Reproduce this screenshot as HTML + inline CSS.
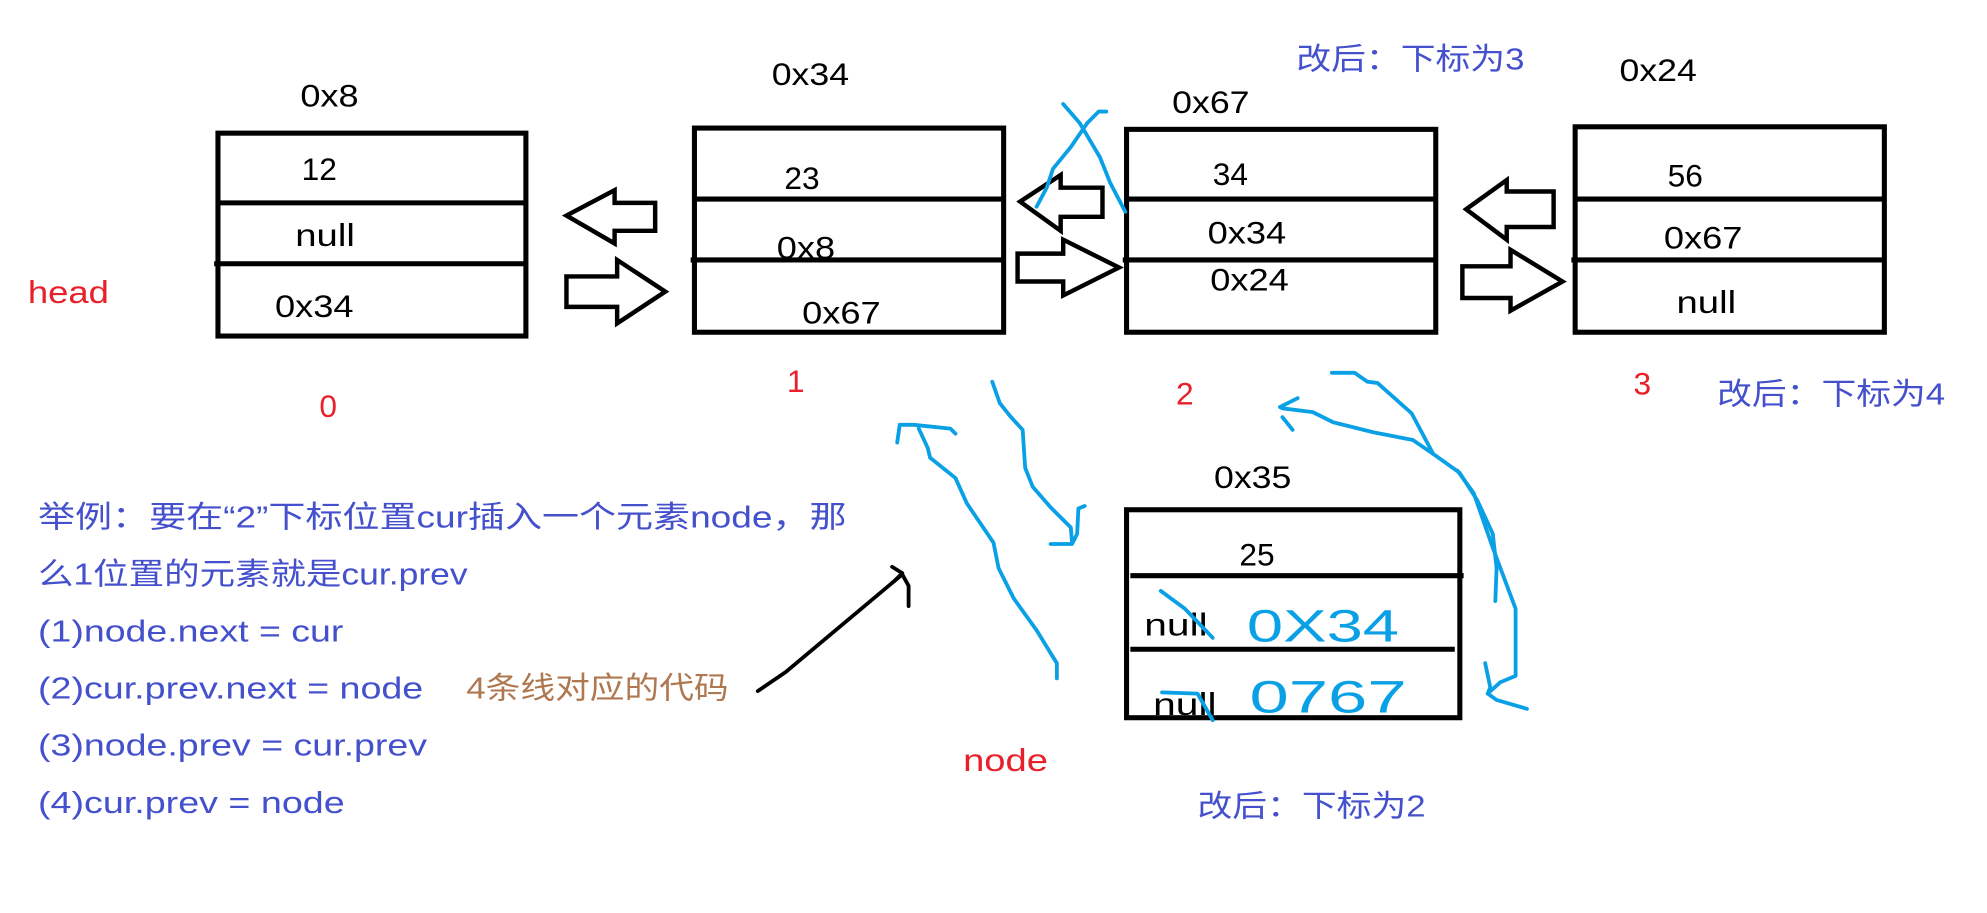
<!DOCTYPE html>
<html><head><meta charset="utf-8"><style>
html,body{margin:0;padding:0;background:#fff;}
svg{display:block;}
text{font-family:"Liberation Sans","Noto Sans CJK SC",sans-serif;}
</style></head><body>
<svg width="1987" height="913" viewBox="0 0 1568 720" preserveAspectRatio="none" xmlns="http://www.w3.org/2000/svg">
<rect width="1568" height="720" fill="#fff"/>
<g fill="none" stroke="#000" stroke-width="4">
<rect x="172" y="105" width="243" height="160"/>
<line x1="172" y1="160" x2="415" y2="160"/>
<line x1="169" y1="208" x2="415" y2="208"/>
<rect x="548" y="101" width="244" height="161"/>
<line x1="548" y1="157" x2="792" y2="157"/>
<line x1="545" y1="205" x2="792" y2="205"/>
<rect x="889" y="102" width="244" height="160"/>
<line x1="889" y1="157" x2="1133" y2="157"/>
<line x1="886" y1="205" x2="1133" y2="205"/>
<rect x="1243" y="100" width="244" height="162"/>
<line x1="1243" y1="157" x2="1487" y2="157"/>
<line x1="1240" y1="205" x2="1487" y2="205"/>
<rect x="889" y="402" width="263" height="164"/>
<line x1="892" y1="454" x2="1155" y2="454"/>
<line x1="892" y1="512" x2="1148" y2="512"/>
</g>
<g fill="#fff" stroke="#000" stroke-width="3.5" stroke-linejoin="miter">
<polygon points="447,170 485,150 485,160 517,160 517,182 485,182 485,192"/>
<polygon points="447,218 487,218 487,205 525,230 487,255 487,242 447,242"/>
<polygon points="805,159 837,138 837,148 870,148 870,171 837,171 837,182"/>
<polygon points="803,200 839,200 839,189 883,211 839,233 839,222 803,222"/>
<polygon points="1157,165 1189,142 1189,151 1226,151 1226,179 1189,179 1189,189"/>
<polygon points="1154,210 1192,210 1192,197 1233,222 1192,245 1192,235 1154,235"/>
</g>
<g font-size="25" fill="#000">
<text x="237" y="84" textLength="46" lengthAdjust="spacingAndGlyphs">0x8</text>
<text x="609" y="67" textLength="61" lengthAdjust="spacingAndGlyphs">0x34</text>
<text x="925" y="89" textLength="61" lengthAdjust="spacingAndGlyphs">0x67</text>
<text x="1278" y="64" textLength="61" lengthAdjust="spacingAndGlyphs">0x24</text>
<text x="958" y="385" textLength="61" lengthAdjust="spacingAndGlyphs">0x35</text>
<text x="238" y="142">12</text>
<text x="233" y="194" textLength="47" lengthAdjust="spacingAndGlyphs">null</text>
<text x="217" y="250" textLength="62" lengthAdjust="spacingAndGlyphs">0x34</text>
<text x="619" y="149">23</text>
<text x="613" y="204" textLength="46" lengthAdjust="spacingAndGlyphs">0x8</text>
<text x="633" y="255" textLength="62" lengthAdjust="spacingAndGlyphs">0x67</text>
<text x="957" y="146">34</text>
<text x="953" y="192" textLength="62" lengthAdjust="spacingAndGlyphs">0x34</text>
<text x="955" y="229" textLength="62" lengthAdjust="spacingAndGlyphs">0x24</text>
<text x="1316" y="147">56</text>
<text x="1313" y="196" textLength="62" lengthAdjust="spacingAndGlyphs">0x67</text>
<text x="1323" y="247" textLength="47" lengthAdjust="spacingAndGlyphs">null</text>
<text x="978" y="446">25</text>
<text x="903" y="501" textLength="50" lengthAdjust="spacingAndGlyphs">null</text>
<text x="910" y="564" textLength="50" lengthAdjust="spacingAndGlyphs">null</text>
</g>
<g font-size="25" fill="#e8202a">
<text x="22" y="239" textLength="64" lengthAdjust="spacingAndGlyphs">head</text>
<text x="252" y="329">0</text>
<text x="621" y="309">1</text>
<text x="928" y="319">2</text>
<text x="1289" y="311">3</text>
<text x="760" y="608" textLength="67" lengthAdjust="spacingAndGlyphs">node</text>
</g>
<g font-size="24" fill="#4450cc">
<text x="1023" y="55" textLength="180" lengthAdjust="spacingAndGlyphs">改后：下标为3</text>
<text x="1355" y="319" textLength="180" lengthAdjust="spacingAndGlyphs">改后：下标为4</text>
<text x="945" y="644" textLength="180" lengthAdjust="spacingAndGlyphs">改后：下标为2</text>
<text x="30" y="416" textLength="638" lengthAdjust="spacingAndGlyphs">举例：要在“2”下标位置cur插入一个元素node，那</text>
<text x="30" y="461" textLength="339" lengthAdjust="spacingAndGlyphs">么1位置的元素就是cur.prev</text>
<text x="30" y="506" textLength="241" lengthAdjust="spacingAndGlyphs">(1)node.next = cur</text>
<text x="30" y="551" textLength="304" lengthAdjust="spacingAndGlyphs">(2)cur.prev.next = node</text>
<text x="30" y="596" textLength="307" lengthAdjust="spacingAndGlyphs">(3)node.prev = cur.prev</text>
<text x="30" y="641" textLength="242" lengthAdjust="spacingAndGlyphs">(4)cur.prev = node</text>
</g>
<text x="368" y="551" font-size="24" fill="#b07850" textLength="207" lengthAdjust="spacingAndGlyphs">4条线对应的代码</text>
<g fill="none" stroke="#000" stroke-width="3" stroke-linecap="round" stroke-linejoin="round">
<path d="M598,545 L620,530 C650,505 680,480 712,453"/>
<path d="M704,447 L712,452 L706,458 M712,453 L717,462 L717,478"/>
</g>
<g fill="none" stroke="#0aa0e6" stroke-width="3" stroke-linecap="round" stroke-linejoin="round">
<polyline points="839,82 852,97 868,124 876,144 888,167"/>
<polyline points="873,88 867,88 858,97 845,116 831,133 826,148 818,163"/>
<polyline points="708,349 710,335 721,335 750,338 754,342"/>
<polyline points="725,338 732,353 734,361 744,369 754,377 763,397 784,428 788,448 800,472 818,497 829,515 834,523 834,535"/>
<polyline points="783,301 789,318 797,328 807,339 809,369 815,384 829,400 845,416 846,428"/>
<polyline points="829,429 846,429 850,421 851,401 856,399"/>
<polyline points="1051,294 1069,294 1079,301 1087,302 1114,326 1131,358 1152,373 1166,395 1178,421 1181,448 1180,474"/>
<polyline points="1150,371 1163,389 1178,432 1196,480 1196,533 1184,538 1174,547 1181,552 1205,559"/>
<polyline points="1172,523 1176,542 1174,547"/>
<polyline points="1024,314 1010,321 1012,322 1036,325 1052,333 1084,341 1115,347 1131,358"/>
<polyline points="1012,329 1020,339"/>
<polyline points="916,466 935,480 957,503"/>
<polyline points="917,546 945,547 957,568"/>
</g>
<g font-size="36" fill="#0aa0e6" font-family="Liberation Sans, sans-serif">
<text x="984" y="506" textLength="120" lengthAdjust="spacingAndGlyphs">0X34</text>
<text x="986" y="562" textLength="124" lengthAdjust="spacingAndGlyphs">0767</text>
</g>
</svg>
</body></html>
